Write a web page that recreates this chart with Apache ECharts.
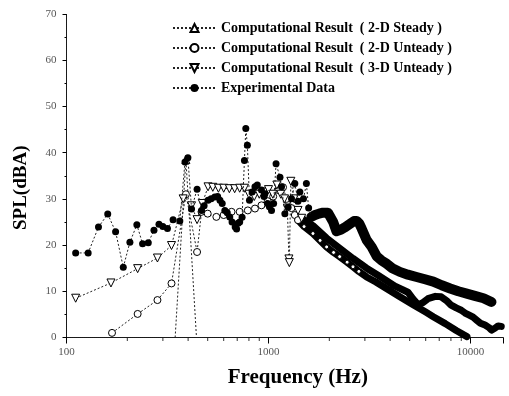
<!DOCTYPE html>
<html>
<head>
<meta charset="utf-8">
<script src="https://cdn.jsdelivr.net/npm/echarts@6/dist/echarts.min.js"></script>
<style>html,body{margin:0;padding:0;background:#fff}#c{width:509px;height:396px}</style>
</head>
<body>
<div id="c"></div>
<script>
// ---- data ----
const seriesNames = [
  'Computational Result  ( 2-D Steady )',
  'Computational Result  ( 2-D Unteady )',
  'Computational Result  ( 3-D Unteady )',
  'Experimental Data'
];
const xTickLabels = [100, 1000, 10000];
const xMinorTicks = [200,300,400,500,600,700,800,900,2000,3000,4000,5000,6000,7000,8000,9000];

// 2-D steady
const steadyFreq = [345, 390, 440];
const steadyVal  = [0, 38.5, 0];

// 2-D unsteady (discrete part)
const unst2Freq = [168,225,282,331,390,443,466,500,552,600,656,720,790,857,923,990,1055,1120,1180,1230,1300,1350,1400];
const unst2Val  = [1.0,5.1,8.1,11.7,31.0,18.5,27.2,26.8,26.1,26.5,27.2,27.2,27.5,27.9,28.6,29.5,30.5,31.9,32.5,30.0,28.0,26.5,25.4];
// 2-D unsteady (dense high-frequency band)
const unst2BandFreq = [1400,1500,1660,1800,1940,2100,2250,2450,2620,2800,3060,3400,3800,4470,5200,6000,6540,7500,8500,9600];
const unst2BandVal  = [25.4,24.0,22.5,21.0,19.6,18.4,17.5,16.3,15.3,14.3,13.1,12.0,10.7,8.8,7.1,5.5,4.5,3.0,1.5,0.2];

// 3-D unsteady (discrete part)
const unst3Freq = [111,166,225,282,331,378,416,443,470,502,530,565,600,640,680,720,760,800,850,900,950,1000,1050,1100,1150,1200,1240,1262,1268,1290,1340,1400,1460];
const unst3Val  = [8.5,11.8,14.9,17.2,19.9,30.0,28.5,25.5,29.0,32.6,32.5,32.3,32.3,32.2,32.2,32.3,32.3,31.0,30.5,31.0,31.5,32.0,31.0,33.0,31.0,30.0,28.0,17.0,16.2,33.8,30.0,27.5,25.8];
// 3-D unsteady (dense band)
const unst3BandFreq = [1460,1660,1940,2250,2620,3060,3500,4230,4900,5200,5500,5800,6160,6700,7160,7600,8020,8500,9000,9400,9800,10300,10700,11200,11800,12300,12700,13200,13700,14200];
const unst3BandVal  = [25.8,24.2,21.5,19.3,17.1,15.0,13.4,11.1,9.8,8.3,7.1,7.5,8.4,8.9,8.8,8.0,7.0,6.4,5.9,5.3,4.9,4.4,3.8,3.1,2.7,2.2,1.6,2.0,2.5,2.4];

// experimental (discrete part)
const expFreq = [111,128,144,160,175,191,206,223,238,254,271,287,300,316,337,364,386,399,416,443,466,480,502,520,542,560,575,590,608,625,643,660,684,695,707,720,740,760,772,786,805,830,857,880,923,950,960,990,1010,1035,1060,1090,1140,1160,1205,1250,1300,1350,1400,1430,1490,1540,1580,1630];
const expVal  = [18.3,18.3,23.9,26.7,22.9,15.2,20.6,24.4,20.3,20.5,23.2,24.5,24.0,23.6,25.5,25.2,38.0,38.9,27.8,32.1,27.5,28.5,29.7,30.0,30.4,30.5,29.7,29.0,27.5,27.0,26.1,25.0,23.9,23.5,24.7,25.0,26.0,38.3,45.2,41.6,29.7,31.5,32.6,33.0,31.9,30.5,31.1,29.0,28.3,27.5,29.0,37.6,34.7,32.6,26.8,28.2,30.0,33.3,29.5,31.5,30.0,33.3,28.0,26.1];
// experimental (dense band)
const expBandFreq = [1630,1700,1780,1860,1970,2090,2170,2280,2380,2530,2650,2735,2820,2890,3060,3240,3430,3620,3830,4100,4470,4900,5410,5950,6540,7200,7930,8700,9580,10500,11600,12700];
const expBandVal  = [26.1,26.5,26.8,27.0,27.0,25.0,23.0,23.3,23.8,24.6,25.2,25.2,24.6,23.6,21.1,19.6,17.6,16.7,16.0,15.0,14.2,13.6,13.1,12.6,12.1,11.3,10.6,10.0,9.5,9.0,8.5,7.7];

// ---- chart ----
const pairs = (f, v) => f.map((x, i) => [x, v[i]]);
const SERIF = 'Liberation Serif';
const dotted = { color: '#222', width: 1, type: [2, 2] };
const hollow = { color: '#fff', borderColor: '#000', borderWidth: 1 };

const chart = echarts.init(document.getElementById('c'), null, { renderer: 'canvas' });
chart.setOption({
  animation: false,
  backgroundColor: '#fff',
  grid: { left: 66.5, right: 5.9, top: 14, bottom: 58.5 },
  legend: {
    data: seriesNames,
    orient: 'vertical',
    left: 172, top: 21, padding: 0,
    itemWidth: 43, itemHeight: 10, itemGap: 6,
    textStyle: { fontFamily: SERIF, fontWeight: 'bold', fontSize: 14, color: '#000' }
  },
  xAxis: {
    type: 'log', logBase: 10, min: 100, max: 14500,
    name: 'Frequency (Hz)', nameLocation: 'middle', nameGap: 30,
    nameTextStyle: { fontFamily: SERIF, fontWeight: 'bold', fontSize: 21, color: '#000', padding: [0, 0, 0, 26] },
    axisLine: { lineStyle: { color: '#000', type: 'dotted', width: 1 } },
    axisTick: { show: true, length: 6, lineStyle: { color: '#000' } },
    axisLabel: { fontFamily: SERIF, fontSize: 11, color: '#555', margin: 9,
      formatter: v => (xTickLabels.indexOf(Math.round(v)) >= 0 ? String(Math.round(v)) : '') },
    splitLine: { show: false }
  },
  yAxis: {
    type: 'value', min: 0, max: 70, interval: 10,
    name: 'SPL(dBA)', nameLocation: 'middle', nameGap: 36, nameRotate: 90,
    nameTextStyle: { fontFamily: SERIF, fontWeight: 'bold', fontSize: 19, color: '#000', padding: [0, 24, 0, 0] },
    axisLine: { show: true, lineStyle: { color: '#000', type: 'dotted', width: 1 } },
    axisTick: { show: true, length: 4, lineStyle: { color: '#000' } },
    minorTick: { show: true, splitNumber: 2, length: 2, lineStyle: { color: '#000' } },
    axisLabel: { fontFamily: SERIF, fontSize: 11, color: '#555', margin: 10 },
    splitLine: { show: false }
  },
  series: [
    { name: seriesNames[0], type: 'line', z: 3,
      data: pairs(steadyFreq, steadyVal).map(p => ({ value: p, symbolSize: p[1] === 0 ? 0 : 8 })),
      symbol: 'triangle', symbolSize: 8, itemStyle: hollow, lineStyle: dotted },
    { name: seriesNames[1], type: 'line', z: 3,
      data: pairs(unst2Freq, unst2Val),
      symbol: 'circle', symbolSize: 7, itemStyle: hollow, lineStyle: dotted },
    { name: seriesNames[2], type: 'line', z: 3,
      data: pairs(unst3Freq, unst3Val),
      symbol: 'triangle', symbolRotate: 180, symbolSize: 8, itemStyle: hollow, lineStyle: dotted },
    { name: seriesNames[3], type: 'line', z: 4,
      data: pairs(expFreq, expVal),
      symbol: 'circle', symbolSize: 7, itemStyle: { color: '#000' }, lineStyle: dotted },
    { name: 'unst2Band', type: 'line', z: 2, data: pairs(unst2BandFreq, unst2BandVal).map(p => ({ value: p, symbolSize: p[0] <= 2800 ? 4 : 0 })),
      symbol: 'circle', itemStyle: hollow,
      lineStyle: { color: '#000', width: 7, cap: 'round', join: 'round' } },
    { name: 'unst3Band', type: 'line', z: 2, data: pairs(unst3BandFreq, unst3BandVal), symbol: 'none',
      lineStyle: { color: '#000', width: 7, cap: 'round', join: 'round' } },
    { name: 'expBand', type: 'line', z: 2, data: pairs(expBandFreq, expBandVal), symbol: 'none',
      lineStyle: { color: '#000', width: 10, cap: 'round', join: 'round' } },
    { name: 'xMinor', type: 'scatter', silent: true, z: 1,
      data: xMinorTicks.map(f => [f, 0]), symbol: 'rect', symbolSize: [1, 3], symbolOffset: [0, 2],
      itemStyle: { color: '#000' } }
  ]
});
</script>
</body>
</html>
